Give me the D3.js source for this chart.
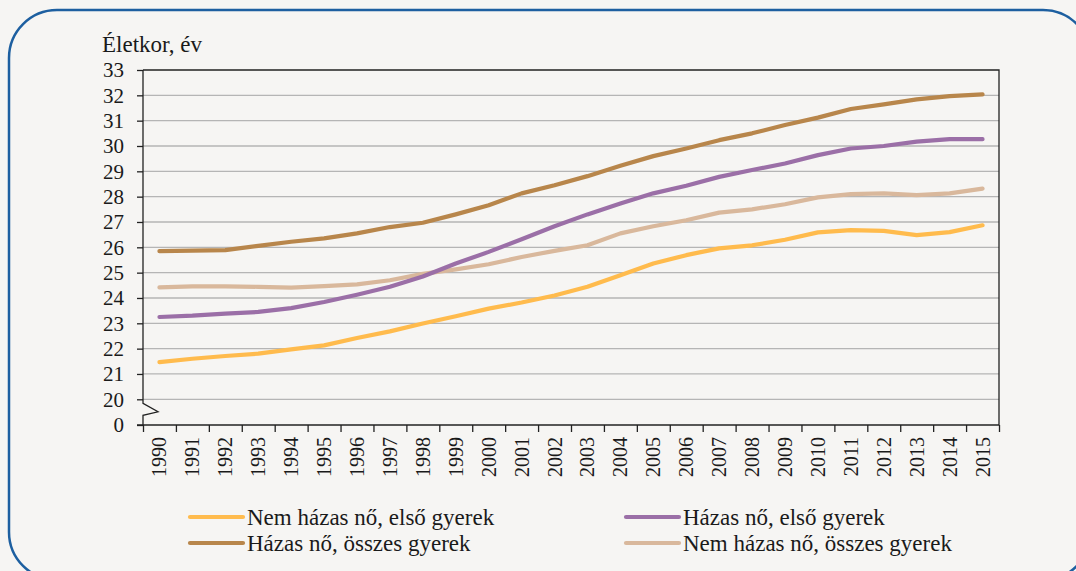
<!DOCTYPE html>
<html>
<head>
<meta charset="utf-8">
<script src="https://cdn.jsdelivr.net/npm/d3@7"></script>
<style>
  html, body { margin: 0; padding: 0; background: #f6f5f3; }
  svg { display: block; }
  svg text { font-family: "Liberation Serif", "Times New Roman", Tinos, "DejaVu Serif", serif !important; fill: #1a1a1a; }
</style>
</head>
<body>
<svg id="chart" width="1076" height="571" font-family="'Liberation Serif', 'Times New Roman', serif"></svg>
<script>
const years = ["1990","1991","1992","1993","1994","1995","1996","1997","1998","1999","2000","2001","2002","2003","2004","2005","2006","2007","2008","2009","2010","2011","2012","2013","2014","2015"];
const nemHazasElso = [21.47,21.6,21.71,21.8,21.97,22.13,22.42,22.68,22.99,23.28,23.58,23.82,24.1,24.44,24.9,25.36,25.69,25.96,26.08,26.3,26.59,26.68,26.65,26.48,26.6,26.87];
const hazasElso = [23.25,23.3,23.38,23.45,23.6,23.84,24.13,24.44,24.85,25.36,25.82,26.32,26.83,27.3,27.73,28.13,28.43,28.78,29.05,29.31,29.64,29.9,30.0,30.17,30.27,30.27];
const hazasOsszes = [25.85,25.87,25.89,26.06,26.22,26.35,26.55,26.8,26.97,27.3,27.66,28.13,28.45,28.81,29.22,29.6,29.9,30.23,30.5,30.83,31.12,31.46,31.64,31.84,31.97,32.04];
const nemHazasOsszes = [24.42,24.46,24.46,24.44,24.41,24.47,24.54,24.7,24.95,25.13,25.33,25.62,25.86,26.08,26.55,26.83,27.07,27.37,27.5,27.7,27.97,28.1,28.13,28.06,28.13,28.32];
const yTicks = [0,20,21,22,23,24,25,26,27,28,29,30,31,32,33];
const seriesNames = ["Nem házas nő, első gyerek","Házas nő, első gyerek","Házas nő, összes gyerek","Nem házas nő, összes gyerek"];
const seriesColors = ["#FFBB4D","#9B6FA7","#B8864B","#D9B89C"];
const yTitle = "Életkor, év";

const series = [nemHazasElso, hazasElso, hazasOsszes, nemHazasOsszes];
const FONT = "'Liberation Serif', 'Times New Roman', serif";

const svg = d3.select("#chart");
const L = 143, R = 999, T = 70, B = 425;

// frame
svg.append("rect").attr("x", 9).attr("y", 10).attr("width", 1082).attr("height", 570)
  .attr("rx", 48).attr("ry", 48).attr("fill", "#f6f5f3").attr("stroke", "#1d5fa0").attr("stroke-width", 2.5);

const x = d3.scaleBand().domain(years).range([L, R]).padding(0);
const xb = d3.scaleLinear().domain([0, years.length]).range([L, R]);
const y = d3.scaleLinear().domain([0, 20, 33]).range([B, 399.3, T]);

// grid
svg.append("g").selectAll("line").data(yTicks.filter(t => t >= 20 && t < 33)).join("line")
  .attr("x1", L).attr("x2", R).attr("y1", d => y(d)).attr("y2", d => y(d))
  .attr("stroke", "#b5b5b5").attr("stroke-width", 1.3);

// top and right border
svg.append("path").attr("d", `M${L},${y(33)}H${R}V${B}`).attr("fill", "none").attr("stroke", "#222").attr("stroke-width", 1.3);

// y axis
const yAxis = svg.append("g").attr("transform", `translate(${L},0)`)
  .call(d3.axisLeft(y).tickValues(yTicks).tickSize(6).tickPadding(13).tickFormat(d3.format("d")));
yAxis.attr("font-family", FONT);
yAxis.select(".domain").remove();
yAxis.selectAll(".tick line").attr("stroke", "#222").attr("stroke-width", 1.3);
yAxis.selectAll("text").style("font-size", "21px").attr("fill", "#1a1a1a");

// y axis line with break
svg.append("path")
  .attr("d", `M${L},${T}V${y(20) + 4}L${L + 15},${y(20) + 12.5}L${L},${y(20) + 16}V${B}`)
  .attr("fill", "none").attr("stroke", "#222").attr("stroke-width", 1.3);

// x axis boundary ticks
const xt = svg.append("g").attr("transform", `translate(0,${B})`)
  .call(d3.axisBottom(xb).tickValues(d3.range(years.length + 1)).tickSize(7).tickFormat(""));
xt.select(".domain").remove();
xt.selectAll(".tick line").attr("stroke", "#222").attr("stroke-width", 1.3);
svg.append("line").attr("x1", L - 6).attr("x2", R).attr("y1", B).attr("y2", B).attr("stroke", "#222").attr("stroke-width", 1.3);

// x labels
const xl = svg.append("g").attr("transform", `translate(0,${B})`)
  .call(d3.axisBottom(x).tickSize(0).tickPadding(0));
xl.attr("font-family", FONT);
xl.select(".domain").remove();
xl.selectAll("text")
  .attr("transform", "rotate(-90)")
  .attr("x", -12).attr("y", 0).attr("dy", "0.35em")
  .style("text-anchor", "end").style("font-size", "20px").attr("fill", "#1a1a1a");

// lines
const line = d3.line().x((d, i) => x(years[i]) + x.bandwidth() / 2).y(d => y(d)).curve(d3.curveLinear);
const order = [3, 0, 1, 2];
svg.append("g").selectAll("path").data(order).join("path")
  .attr("d", i => line(series[i]))
  .attr("fill", "none").attr("stroke", i => seriesColors[i])
  .attr("stroke-width", 4.2).attr("stroke-linecap", "round").attr("stroke-linejoin", "round");

// title
svg.append("text").attr("x", 102).attr("y", 52).attr("font-family", FONT).style("font-size", "23px").text(yTitle);

// legend
const legPos = [[190, 517], [626, 517], [190, 543], [626, 543]];
const leg = svg.append("g").attr("font-family", FONT).selectAll("g").data(seriesNames).join("g")
  .attr("transform", (d, i) => `translate(${legPos[i][0]},${legPos[i][1]})`);
leg.append("line").attr("x1", 0).attr("x2", 53).attr("y1", 0).attr("y2", 0)
  .attr("stroke", (d, i) => seriesColors[i]).attr("stroke-width", 4.2).attr("stroke-linecap", "round");
leg.append("text").attr("x", 57).attr("y", 0).attr("dy", "0.33em").style("font-size", "23px").text(d => d);
</script>
</body>
</html>
